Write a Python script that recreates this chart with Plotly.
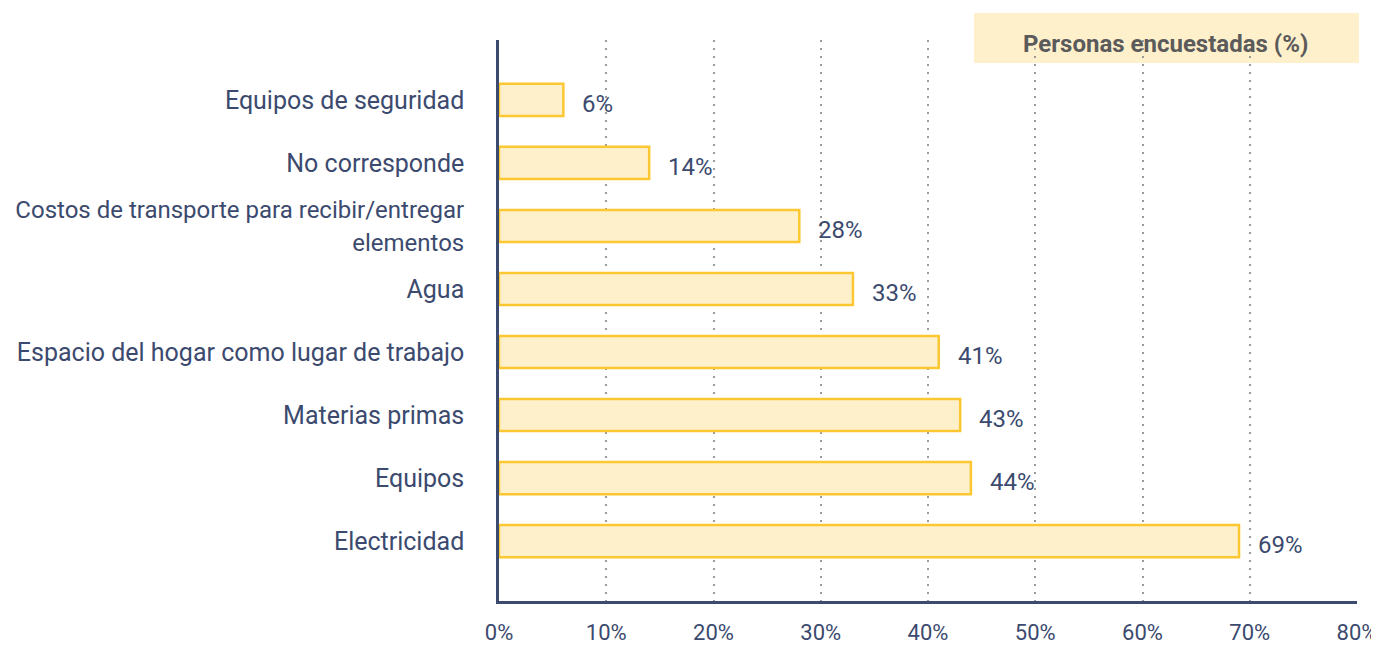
import plotly.graph_objects as go

categories = [
    "Equipos de seguridad",
    "No corresponde",
    "<span style=\"font-size:24px\">Costos de transporte para recibir/entregar<br>elementos</span>",
    "Agua",
    "Espacio del hogar como lugar de trabajo",
    "Materias primas",
    "Equipos",
    "Electricidad",
]
values = [6, 14, 28, 33, 41, 43, 44, 69]
value_labels = ["6%", "14%", "28%", "33%", "41%", "43%", "44%", "69%"]
x_ticks = [0, 10, 20, 30, 40, 50, 60, 70, 80]
x_tick_labels = ["0%", "10%", "20%", "30%", "40%", "50%", "60%", "70%", "80%"]
legend_title = "Personas encuestadas (%)"

NAVY = "#3b4a6e"
FONT = "Roboto"

fig = go.Figure()
fig.add_trace(go.Bar(
    y=categories,
    x=values,
    orientation="h",
    width=0.51,
    marker=dict(color="#fff0cc", line=dict(color="#fdc731", width=2.5)),
    hoverinfo="skip",
    showlegend=False,
))

for cat, v, lab in zip(categories, values, value_labels):
    fig.add_annotation(
        x=v, y=cat, xref="x", yref="y", text=lab, showarrow=False,
        xanchor="left", yanchor="middle", xshift=17, yshift=-4,
        font=dict(family=FONT, size=24, color=NAVY),
    )

# legend-like header box
fig.add_shape(type="rect", xref="paper", yref="paper",
              x0=0.5536, x1=1.0023, y0=0.959, y1=1.048,
              fillcolor="#fff0cc", line=dict(width=0), layer="below")
fig.add_annotation(xref="paper", yref="paper", x=0.777, y=0.993,
                   text="<b>" + legend_title + "</b>", showarrow=False,
                   xanchor="center", yanchor="middle",
                   font=dict(family=FONT, size=24, color="#5b5b5b"))

fig.update_layout(
    width=1371, height=638,
    margin=dict(l=491, r=22, t=32, b=45, autoexpand=False),
    paper_bgcolor="white", plot_bgcolor="white",
    font=dict(family=FONT, size=20, color=NAVY),
    bargap=0.49,
)
fig.update_xaxes(
    range=[0, 80], tickvals=x_ticks, ticktext=x_tick_labels,
    showgrid=True, gridcolor="#9a9a9a", gridwidth=2, griddash="2px,6px",
    showline=True, linecolor=NAVY, linewidth=2.5,
    zeroline=False, ticks="", ticklabelstandoff=10, automargin=False,
    tickfont=dict(family=FONT, size=22, color=NAVY),
)
fig.update_yaxes(
    range=[7.95, -0.95], showgrid=False, zeroline=False,
    showline=True, linecolor=NAVY, linewidth=2.5, ticks="",
    ticklabelstandoff=27, automargin=False,
    tickfont=dict(family=FONT, size=25, color=NAVY),
)

fig.write_html("out.html")
